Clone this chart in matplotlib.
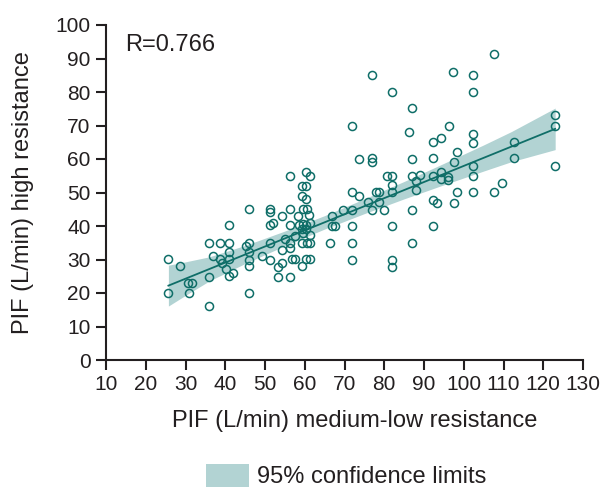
import numpy as np
import matplotlib
matplotlib.use('Agg')
import matplotlib.pyplot as plt
from matplotlib.patches import Patch

plt.rcParams['font.family'] = ['Liberation Sans', 'DejaVu Sans']

# --- Data ---
pif_low = [25.7, 25.7, 28.6, 30.7, 31.6, 30.9,
           36.0, 36.0, 36.0, 36.8,
           38.8, 41.0, 41.0, 38.8, 39.1, 41.0, 41.0, 40.2, 41.0, 42.0,
           46.1, 45.2, 46.1, 46.1, 46.1, 46.1, 46.1,
           49.2,
           51.3, 51.3, 51.3, 52.1, 51.3, 51.3,
           53.3, 54.2, 53.3, 56.3, 54.2, 54.4, 55.0,
           56.3, 56.3, 56.3, 56.3, 56.3, 56.7, 57.5, 57.5,
           58.4, 58.6, 59.5, 60.3, 59.2, 60.3, 61.3, 59.6,
           59.5, 60.5, 59.2, 60.3, 61.1,
           59.2, 60.5, 61.3, 60.3, 61.3, 59.2, 61.3,
           60.3, 61.3, 59.3, 60.3,
           66.8, 66.8, 67.6, 66.4,
           69.7, 71.8, 71.8, 71.8, 71.8, 71.8, 71.8,
           73.7, 73.7, 75.8, 76.8, 76.8, 76.8, 77.9, 78.8, 78.8, 80.0,
           77.0, 81.9,
           80.8, 81.9, 81.9, 81.9, 81.9, 81.9, 81.9,
           87.1, 86.2, 87.1, 87.1, 89.0, 88.1, 88.1, 87.1, 87.1,
           92.3, 94.3, 92.3, 92.3, 94.3, 94.3, 96.1, 96.1, 92.3, 93.2, 92.3,
           96.3, 97.4, 98.4, 97.5, 97.5, 98.4,
           102.4, 102.4, 102.4, 102.4, 102.4, 102.4, 102.4,
           107.6, 107.6, 109.7,
           112.6, 112.6,
           123.0, 123.0, 123.0]
pif_high = [30.1, 20.0, 28.1, 23.0, 23.0, 20.0,
            35.0, 24.9, 16.1, 31.1,
            35.0, 35.0, 40.2, 30.1, 29.1, 32.3, 30.1, 27.1, 25.1, 26.1,
            45.2, 34.0, 35.0, 32.3, 29.9, 28.1, 20.0,
            30.9,
            45.2, 44.2, 40.2, 40.9, 35.0, 29.9,
            27.9, 29.1, 24.9, 24.9, 32.8, 42.9, 36.0,
            55.0, 45.2, 40.2, 35.0, 33.5, 30.1, 30.1, 37.0,
            42.9, 40.2, 40.7, 40.2, 39.0, 39.0, 40.9, 38.0,
            45.2, 45.2, 49.1, 48.1, 43.2,
            35.0, 35.0, 35.0, 30.1, 30.1, 28.1, 37.3,
            56.0, 55.0, 52.0, 52.0,
            42.9, 40.0, 40.0, 35.0,
            44.9, 44.9, 70.0, 50.1, 40.0, 35.0, 30.0,
            59.9, 49.1, 47.1, 60.4, 59.0, 44.9, 50.1, 50.1, 47.1, 44.9,
            85.0, 80.0,
            55.0, 55.0, 52.1, 50.1, 40.0, 30.0, 27.8,
            75.1, 68.0, 59.9, 55.0, 55.3, 53.4, 50.8, 44.9, 35.0,
            65.2, 66.2, 60.2, 55.0, 56.0, 54.0, 54.7, 53.8, 47.8, 46.8, 40.0,
            70.0, 86.1, 62.2, 59.0, 46.8, 50.1,
            85.1, 80.0, 67.4, 64.9, 58.0, 55.0, 50.1,
            91.2, 50.1, 52.9,
            65.2, 60.2,
            73.1, 70.0, 58.0]

# regression line and 95% band as drawn in the reference
fit_x = [25.7, 123.0]
fit_y = [22.2, 69.0]
band_x = [25.7, 30, 36, 45, 55, 65, 75, 85, 95, 105, 112, 123]
band_lo = [16.1, 19.3, 23.6, 28.8, 34.1, 39.1, 43.7, 48.1, 52.3, 56.4, 59.2, 62.8]
band_hi = [28.3, 29.3, 30.8, 34.2, 38.5, 43.1, 48.1, 53.3, 58.7, 64.2, 68.2, 75.2]

r_label = 'R=0.766'

teal = '#0f6e68'
band_col = '#b2d3d3'
ink = '#231f20'

fig = plt.figure(figsize=(6.16, 4.91), dpi=100)
ax = fig.add_axes([106 / 616, 1 - 360 / 491, 477 / 616, 335 / 491])

ax.fill_between(band_x, band_lo, band_hi, color=band_col, lw=0, zorder=1)
ax.plot(fit_x, fit_y, color=teal, lw=1.3, zorder=2)
ax.plot(pif_low, pif_high, 'o', mfc='none', mec=teal, mew=1.1, ms=5.8, zorder=3)

ax.set_xlim(10, 130)
ax.set_ylim(0, 100)
ax.set_xticks(np.arange(10, 131, 10))
ax.set_yticks(np.arange(0, 101, 10))
for s in ['top', 'right']:
    ax.spines[s].set_visible(False)
for s in ['left', 'bottom']:
    ax.spines[s].set_linewidth(1.5)
    ax.spines[s].set_color(ink)
ax.tick_params(length=7, width=1.5, color=ink, labelcolor=ink,
               labelsize=15, pad=4)

ax.set_xlabel('PIF (L/min) medium-low resistance', fontsize=17, color=ink)
ax.xaxis.set_label_coords(0.522, -0.15)
ax.set_ylabel('PIF (L/min) high resistance', fontsize=17, color=ink)
ax.yaxis.set_label_coords(-0.15, 0.5)
ax.text(14.8, 94, r_label, fontsize=17, color=ink, va='center')

fig.legend(handles=[Patch(facecolor=band_col, edgecolor='none',
                          label='95% confidence limits')],
           loc='center', bbox_to_anchor=(0.562, 0.03), frameon=False,
           fontsize=17, handlelength=1.8, handleheight=1.1,
           handletextpad=0.35, labelcolor=ink)

fig.savefig('out.png', dpi=100)
